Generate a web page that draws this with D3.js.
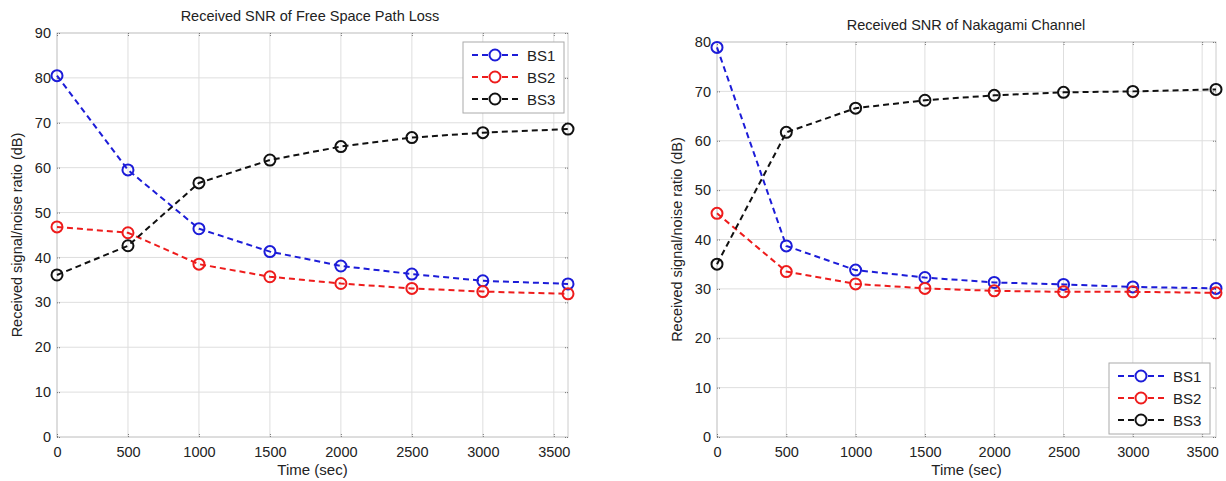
<!DOCTYPE html>
<html>
<head>
<meta charset="utf-8">
<script src="https://cdn.jsdelivr.net/npm/d3@7"></script>
<style>
  body { margin: 0; background: #fff; }
  svg { font-family: "Liberation Sans", Arial, sans-serif; }
</style>
</head>
<body>
<svg id="chart" width="1226" height="481"></svg>
<script>
// time samples (sec)
var times = [0, 500, 1000, 1500, 2000, 2500, 3000, 3600];
var xTicks = [0, 500, 1000, 1500, 2000, 2500, 3000, 3500];
var seriesNames = ["BS1", "BS2", "BS3"];
var seriesColors = ["#1c1cd8", "#ee1c1c", "#111111"];

// Free space path loss
var fsplBS1 = [80.5, 59.5, 46.4, 41.3, 38.1, 36.3, 34.8, 34.1];
var fsplBS2 = [46.8, 45.5, 38.5, 35.7, 34.2, 33.1, 32.4, 31.9];
var fsplBS3 = [36.1, 42.6, 56.6, 61.7, 64.7, 66.7, 67.8, 68.6];
var fsplYTicks = [0, 10, 20, 30, 40, 50, 60, 70, 80, 90];

// Nakagami channel
var nakBS1 = [78.9, 38.7, 33.8, 32.3, 31.3, 30.9, 30.4, 30.1];
var nakBS2 = [45.3, 33.5, 31.0, 30.1, 29.6, 29.4, 29.4, 29.2];
var nakBS3 = [35.0, 61.7, 66.6, 68.2, 69.2, 69.8, 70.0, 70.4];
var nakYTicks = [0, 10, 20, 30, 40, 50, 60, 70, 80];

var svg = d3.select("#chart");

function drawPanel(p) {
  var x = d3.scaleLinear().domain([0, 3600]).range([p.left, p.right]);
  var y = d3.scaleLinear().domain([0, p.yMax]).range([p.bottom, p.top]);
  var g = svg.append("g");

  // grid
  g.selectAll(".gx").data(xTicks).enter().append("line")
    .attr("x1", function (d) { return x(d) }).attr("x2", function (d) { return x(d) })
    .attr("y1", p.top).attr("y2", p.bottom)
    .attr("stroke", "#dedede").attr("stroke-width", 1);
  g.selectAll(".gy").data(p.yTicks).enter().append("line")
    .attr("x1", p.left).attr("x2", p.right)
    .attr("y1", function (d) { return y(d) }).attr("y2", function (d) { return y(d) })
    .attr("stroke", "#dedede").attr("stroke-width", 1);

  // box
  g.append("rect")
    .attr("x", p.left).attr("y", p.top)
    .attr("width", p.right - p.left).attr("height", p.bottom - p.top)
    .attr("fill", "none").attr("stroke", "#cccccc");

  // axes
  var xAxis = g.append("g").attr("transform", "translate(0," + p.bottom + ")")
    .call(d3.axisBottom(x).tickValues(xTicks).tickSize(-4).tickPadding(10).tickFormat(d3.format("d")));
  var xTop = g.append("g").attr("transform", "translate(0," + p.top + ")")
    .call(d3.axisTop(x).tickValues(xTicks).tickSize(-4).tickFormat(""));
  var yAxis = g.append("g").attr("transform", "translate(" + p.left + ",0)")
    .call(d3.axisLeft(y).tickValues(p.yTicks).tickSize(-4).tickPadding(6));
  var yRight = g.append("g").attr("transform", "translate(" + p.right + ",0)")
    .call(d3.axisRight(y).tickValues(p.yTicks).tickSize(-4).tickFormat(""));
  [xAxis, xTop, yAxis, yRight].forEach(function (a) {
    a.select(".domain").remove();
    a.selectAll(".tick line").attr("stroke", "#777").attr("stroke-dasharray", "1,1");
    a.selectAll("text").attr("fill", "#222").style("font-size", "14.5px");
  });

  // lines
  var line = d3.line()
    .x(function (d, i) { return x(times[i]) })
    .y(function (d) { return y(d) });
  p.series.forEach(function (vals, k) {
    g.append("path").datum(vals)
      .attr("d", line)
      .attr("fill", "none")
      .attr("stroke", seriesColors[k])
      .attr("stroke-width", 2)
      .attr("stroke-dasharray", "6,4");
    g.selectAll(".m" + k).data(vals).enter().append("circle")
      .attr("cx", function (d, i) { return x(times[i]) })
      .attr("cy", function (d) { return y(d) })
      .attr("r", 5.5)
      .attr("fill", "none")
      .attr("stroke", seriesColors[k])
      .attr("stroke-width", 2);
  });

  // titles
  g.append("text").attr("x", p.titleX).attr("y", p.titleY)
    .attr("text-anchor", "middle").style("font-size", "14.5px").attr("fill", "#222")
    .text(p.title);
  g.append("text").attr("x", (p.left + p.right) / 2).attr("y", 475)
    .attr("text-anchor", "middle").style("font-size", "15px").attr("fill", "#222")
    .text("Time (sec)");
  g.append("text")
    .attr("transform", "translate(" + p.yLabelX + "," + ((p.top + p.bottom) / 2) + ") rotate(-90)")
    .attr("text-anchor", "middle").style("font-size", "14.5px").attr("fill", "#222")
    .text("Received signal/noise ratio (dB)");

  // legend
  var lg = g.append("g").attr("transform", "translate(" + p.legX + "," + p.legY + ")");
  lg.append("rect").attr("width", 101).attr("height", 71)
    .attr("fill", "#fff").attr("stroke", "#aaa");
  seriesNames.forEach(function (name, k) {
    var yy = 13 + k * 22;
    lg.append("line").attr("x1", 9).attr("x2", 55).attr("y1", yy).attr("y2", yy)
      .attr("stroke", seriesColors[k]).attr("stroke-width", 2).attr("stroke-dasharray", "6,4");
    lg.append("circle").attr("cx", 32).attr("cy", yy).attr("r", 5.5)
      .attr("fill", "#fff").attr("stroke", seriesColors[k]).attr("stroke-width", 2);
    lg.append("text").attr("x", 64).attr("y", yy + 5.5)
      .style("font-size", "15px").attr("fill", "#222").text(name);
  });
}

drawPanel({
  left: 57, right: 568, top: 33, bottom: 437, yMax: 90, yTicks: fsplYTicks,
  series: [fsplBS1, fsplBS2, fsplBS3],
  title: "Received SNR of Free Space Path Loss", titleX: 310, titleY: 21,
  yLabelX: 22, legX: 463, legY: 42
});

drawPanel({
  left: 717, right: 1216, top: 42, bottom: 437, yMax: 80, yTicks: nakYTicks,
  series: [nakBS1, nakBS2, nakBS3],
  title: "Received SNR of Nakagami Channel", titleX: 966, titleY: 30,
  yLabelX: 682, legX: 1109, legY: 363
});
</script>
</body>
</html>
